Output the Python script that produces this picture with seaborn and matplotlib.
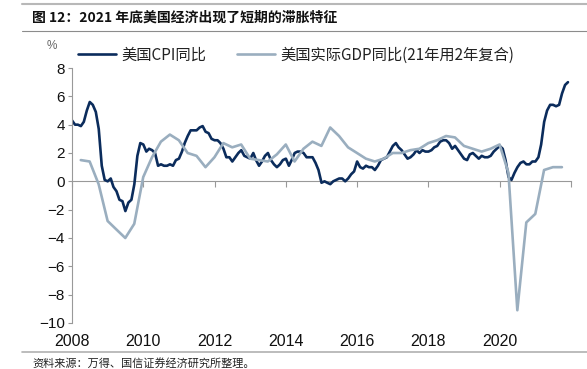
import numpy as np
import pandas as pd
import matplotlib
matplotlib.use("Agg")
import matplotlib.pyplot as plt
import matplotlib.dates as mdates
from matplotlib.lines import Line2D
import seaborn as sns

# ---------------- data ----------------
cpi_start = "2008-01-01"
cpi_values = [
    4.3, 4.0, 4.0, 3.9, 4.2, 5.0, 5.6, 5.4, 4.9, 3.7, 1.1, 0.1,      # 2008
    0.0, 0.2, -0.4, -0.7, -1.3, -1.4, -2.1, -1.5, -1.3, -0.2, 1.8, 2.7,  # 2009
    2.6, 2.1, 2.3, 2.2, 2.0, 1.1, 1.2, 1.1, 1.1, 1.2, 1.1, 1.5,      # 2010
    1.6, 2.1, 2.7, 3.2, 3.6, 3.6, 3.6, 3.8, 3.9, 3.5, 3.4, 3.0,      # 2011
    2.9, 2.9, 2.7, 2.3, 1.7, 1.7, 1.4, 1.7, 2.0, 2.2, 1.8, 1.7,      # 2012
    1.6, 2.0, 1.5, 1.1, 1.4, 1.8, 2.0, 1.5, 1.2, 1.0, 1.2, 1.5,      # 2013
    1.6, 1.1, 1.5, 2.0, 2.1, 2.1, 2.0, 1.7, 1.7, 1.7, 1.3, 0.8,      # 2014
    -0.1, 0.0, -0.1, -0.2, 0.0, 0.1, 0.2, 0.2, 0.0, 0.2, 0.5, 0.7,   # 2015
    1.4, 1.0, 0.9, 1.1, 1.0, 1.0, 0.8, 1.1, 1.5, 1.6, 1.7, 2.1,      # 2016
    2.5, 2.7, 2.4, 2.2, 1.9, 1.6, 1.7, 1.9, 2.2, 2.0, 2.2, 2.1,      # 2017
    2.1, 2.2, 2.4, 2.5, 2.8, 2.9, 2.9, 2.7, 2.3, 2.5, 2.2, 1.9,      # 2018
    1.6, 1.5, 1.9, 2.0, 1.8, 1.6, 1.8, 1.7, 1.7, 1.8, 2.1, 2.3,      # 2019
    2.5, 2.3, 1.5, 0.3, 0.1, 0.6, 1.0, 1.3, 1.4, 1.2, 1.2, 1.4,      # 2020
    1.4, 1.7, 2.6, 4.2, 5.0, 5.4, 5.4, 5.3, 5.4, 6.2, 6.8, 7.0,      # 2021
]
gdp_start = "2008-03-31"
gdp_values = [
    1.5, 1.4, -0.2, -2.8,      # 2008
    -3.4, -4.0, -3.0, 0.3,     # 2009
    1.7, 2.8, 3.3, 2.9,        # 2010
    2.0, 1.8, 1.0, 1.7,        # 2011
    2.7, 2.4, 2.6, 1.6,        # 2012
    1.5, 1.4, 1.9, 2.6,        # 2013
    1.4, 2.3, 2.8, 2.5,        # 2014
    3.8, 3.2, 2.4, 2.0,        # 2015
    1.6, 1.4, 1.6, 2.0,        # 2016
    2.0, 2.2, 2.3, 2.7,        # 2017
    2.9, 3.2, 3.1, 2.5,        # 2018
    2.3, 2.1, 2.3, 2.6,        # 2019
    0.6, -9.1, -2.9, -2.3,     # 2020
    0.8, 1.0, 1.0,             # 2021 (2-year compound)
]
series_names = ["美国CPI同比", "美国实际GDP同比(21年用2年复合)"]
series_colors = ["#0b2c5c", "#9aaebf"]
y_ticks = [-10, -8, -6, -4, -2, 0, 2, 4, 6, 8]
x_tick_years = [2008, 2010, 2012, 2014, 2016, 2018, 2020, 2022]
x_label_years = [2008, 2010, 2012, 2014, 2016, 2018, 2020]
title = "图 12：2021 年底美国经济出现了短期的滞胀特征"
source = "资料来源：万得、国信证券经济研究所整理。"

# ---------------- frame ----------------
cpi_df = pd.DataFrame({
    "date": pd.date_range(cpi_start, periods=len(cpi_values), freq="MS"),
    "value": cpi_values, "series": series_names[0]})
gdp_df = pd.DataFrame({
    "date": pd.date_range(gdp_start, periods=len(gdp_values), freq="QE"),
    "value": gdp_values, "series": series_names[1]})
df = pd.concat([cpi_df, gdp_df], ignore_index=True)

sns.set_theme(style="white")
plt.rcParams["font.family"] = ["Liberation Sans", "Noto Sans CJK SC", "DejaVu Sans"]

W, H = 587, 369
fig = plt.figure(figsize=(W / 100, H / 100), dpi=100)
ax = fig.add_axes([72 / W, 1 - 323 / H, (571 - 72) / W, (323 - 68) / H])

sns.lineplot(data=df, x="date", y="value", hue="series", hue_order=series_names,
             palette=series_colors, linewidth=1.9, ax=ax, legend=False)

ax.set_xlim(pd.Timestamp("2008-01-01"), pd.Timestamp("2022-01-01"))
ax.set_ylim(-10, 8)
ax.set_xlabel("")
ax.set_ylabel("")
ax.set_yticks(y_ticks)
ax.tick_params(axis="y", direction="out", length=3, width=0.8, color="#999999",
               labelsize=11, pad=2, left=True, labelcolor="#111111")
for s in ["top", "right", "bottom"]:
    ax.spines[s].set_visible(False)
ax.spines["left"].set_color("#999999")
ax.spines["left"].set_linewidth(0.8)

ax.set_xticks([mdates.date2num(pd.Timestamp(f"{y}-01-01")) for y in x_label_years])
ax.set_xticklabels([str(y) for y in x_label_years])
ax.tick_params(axis="x", length=0, labelsize=11.5, pad=8, labelcolor="#111111")

sec = ax.secondary_xaxis(0, transform=ax.transData)
sec.set_xticks([mdates.date2num(pd.Timestamp(f"{y}-01-01")) for y in x_tick_years])
sec.set_xticklabels([])
sec.tick_params(axis="x", direction="out", length=4, width=0.8, color="#999999")
sec.spines["bottom"].set_color("#999999")
sec.spines["bottom"].set_linewidth(0.8)

# legend
handles = [Line2D([], [], color=c, lw=1.9) for c in series_colors]
leg = fig.legend(handles, series_names, loc="center left",
                 bbox_to_anchor=(64 / W, 1 - 55 / H), ncol=2, frameon=False,
                 handlelength=2.5, handletextpad=0.35, columnspacing=2.0,
                 prop={"family": ["Noto Sans CJK SC"], "size": 11})
for t in leg.get_texts():
    t.set_color("#222222")

fig.text(52 / W, 1 - 46 / H, "%", fontsize=8.5, color="#666666", ha="center", va="center")

# title and rules
fig.text(32 / W, 1 - 18 / H, title, fontsize=10, fontweight="bold",
         family=["Noto Sans CJK SC", "DejaVu Sans"], va="center", ha="left", color="#111111")
fig.add_artist(Line2D([22 / W, 1], [1 - 4 / H, 1 - 4 / H], color="#b8b8b8", lw=1.5,
                      transform=fig.transFigure))
fig.add_artist(Line2D([22 / W, 1], [1 - 31 / H, 1 - 31 / H], color="#8c8c8c", lw=0.8,
                      transform=fig.transFigure))
fig.add_artist(Line2D([22 / W, 1], [1 - 352 / H, 1 - 352 / H], color="#b0b0b0", lw=1.2,
                      transform=fig.transFigure))
fig.text(32 / W, 1 - 363 / H, source, fontsize=8,
         family=["Noto Sans CJK SC", "DejaVu Sans"], va="center", ha="left", color="#222222")

fig.savefig("out.png", dpi=100)
